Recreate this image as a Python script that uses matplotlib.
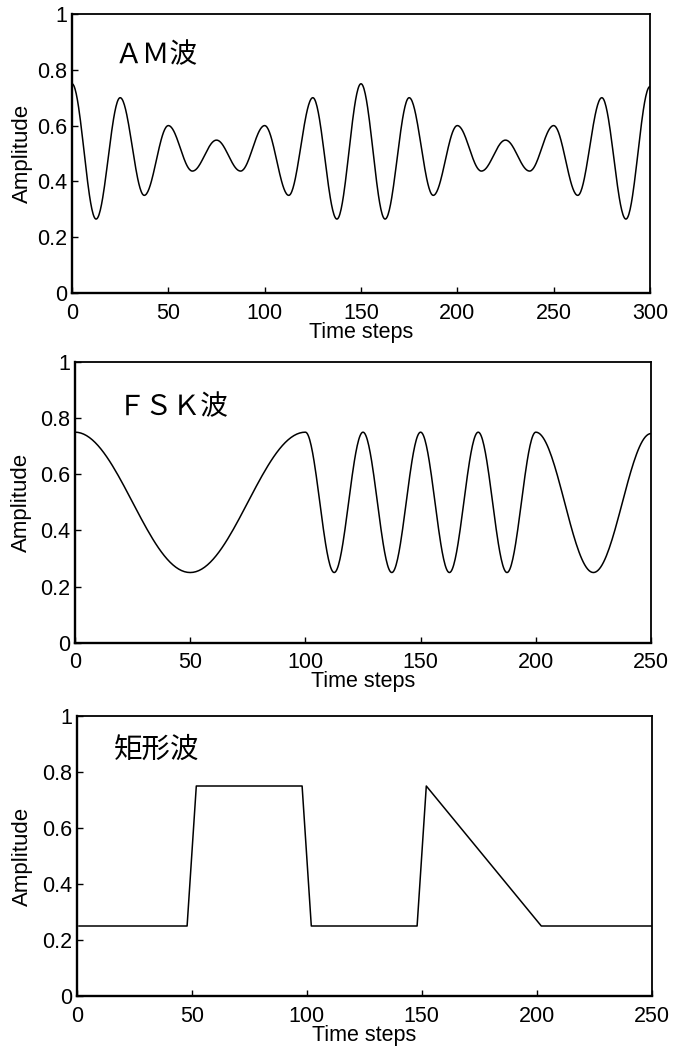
import numpy as np
import matplotlib
matplotlib.use("Agg")
import matplotlib.pyplot as plt
from matplotlib.ticker import FixedLocator, FixedFormatter

plt.rcParams['font.family'] = ['Liberation Sans', 'DejaVu Sans']

# ---- data ----
# AM wave: local extrema (time step, amplitude)
am_t = [0, 12.5, 25, 37.5, 50, 62.5, 75, 87.5, 100, 112.5, 125, 137.5, 150,
        162.5, 175, 187.5, 200, 212.5, 225, 237.5, 250, 262.5, 275, 287.5, 300]
am_v = [0.75, 0.265, 0.70, 0.35, 0.60, 0.437, 0.548, 0.437, 0.60, 0.35, 0.70, 0.265, 0.75,
        0.265, 0.70, 0.35, 0.60, 0.437, 0.548, 0.437, 0.60, 0.35, 0.70, 0.265, 0.74]

# FSK wave: local extrema (time step, amplitude)
fsk_t = [0, 50, 100, 112.5, 125, 137.5, 150, 162.5, 175, 187.5, 200, 225, 250]
fsk_v = [0.75, 0.25, 0.75, 0.25, 0.75, 0.25, 0.75, 0.25, 0.75, 0.25, 0.75, 0.25, 0.745]

# Rectangular wave: vertices
rect_t = [1, 48, 52, 98, 102, 148, 152, 202, 250]
rect_v = [0.25, 0.25, 0.75, 0.75, 0.25, 0.25, 0.75, 0.25, 0.25]

titles = ['ＡＭ波', 'ＦＳＫ波', '矩形波']
x_max = [300, 250, 250]
x_ticks = [[0, 50, 100, 150, 200, 250, 300],
           [0, 50, 100, 150, 200, 250],
           [0, 50, 100, 150, 200, 250]]
y_ticks = [0, 0.2, 0.4, 0.6, 0.8, 1.0]
y_tick_labels = ['0', '0.2', '0.4', '0.6', '0.8', '1']
x_label = 'Time steps'
y_label = 'Amplitude'


def smooth_between_extrema(t, v, n=40):
    """Draw half-cosine segments joining consecutive extrema (sinusoid-like shape)."""
    xs, ys = [], []
    for i in range(len(t) - 1):
        s = np.linspace(0, 1, n, endpoint=False)
        xs.append(t[i] + (t[i + 1] - t[i]) * s)
        ys.append(v[i] + (v[i + 1] - v[i]) * (1 - np.cos(np.pi * s)) / 2)
    xs.append([t[-1]])
    ys.append([v[-1]])
    return np.concatenate(xs), np.concatenate(ys)


fig = plt.figure(figsize=(6.75, 10.53), dpi=100)

positions = [
    [72 / 675, (1053 - 293) / 1053, 578 / 675, 279 / 1053],
    [75 / 675, (1053 - 642.7) / 1053, 576 / 675, 280.7 / 1053],
    [76.7 / 675, (1053 - 996) / 1053, 575 / 675, 280 / 1053],
]
title_pos = [(0.074, 0.853, 20), (0.074, 0.84, 20), (0.064, 0.88, 20.5)]
ylabel_x = [-0.067, -0.075, -0.076]

curves = [
    smooth_between_extrema(am_t, am_v),
    smooth_between_extrema(fsk_t, fsk_v),
    (np.array(rect_t), np.array(rect_v)),
]

for i in range(3):
    ax = fig.add_axes(positions[i])
    x, y = curves[i]
    ax.plot(x, y, color='black', lw=1.1, solid_joinstyle='round')
    ax.set_xlim(0, x_max[i])
    ax.set_ylim(0, 1)
    ax.xaxis.set_major_locator(FixedLocator(x_ticks[i]))
    ax.xaxis.set_major_formatter(FixedFormatter([str(v) for v in x_ticks[i]]))
    ax.yaxis.set_major_locator(FixedLocator(y_ticks))
    ax.yaxis.set_major_formatter(FixedFormatter(y_tick_labels))
    ax.tick_params(axis='both', direction='in', length=4.5, width=1.0,
                   labelsize=15.5, top=False, right=False, colors='black')
    ax.tick_params(axis='x', pad=7)
    ax.tick_params(axis='y', pad=3.5)
    for side in ['left', 'bottom']:
        ax.spines[side].set_linewidth(1.7)
    for side in ['top', 'right']:
        ax.spines[side].set_linewidth(1.3)
    ax.set_xlabel(x_label, fontsize=15.5, labelpad=-1.5)
    ax.set_ylabel(y_label, fontsize=16)
    ax.yaxis.set_label_coords(ylabel_x[i], 0.5)
    tx, ty, fs = title_pos[i]
    ax.text(tx, ty, titles[i], transform=ax.transAxes, fontsize=fs,
            family=['Noto Sans CJK JP', 'DejaVu Sans'], ha='left', va='center')

fig.savefig('out.png', dpi=100)
